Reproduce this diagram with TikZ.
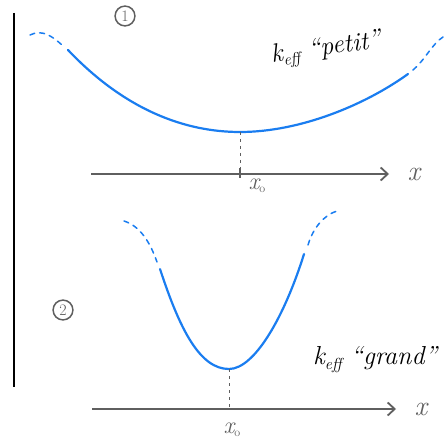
\documentclass[tikz,border=0pt]{standalone}
\usetikzlibrary{arrows.meta}
\definecolor{curveblue}{RGB}{26,125,240}
\definecolor{axgray}{RGB}{95,95,95}
\tikzset{
  curve/.style={curveblue, line width=2.2pt, line cap=round},
  curvedash/.style={curveblue, line width=1.5pt, dash pattern=on 5pt off 5pt, line cap=round},
  axis/.style={axgray, line width=2pt, -{Straight Barb[length=7pt,width=13pt,line width=1.8pt]}},
  guide/.style={axgray, line width=1pt, dash pattern=on 3pt off 4pt},
  lbl/.style={axgray, inner sep=0pt},
  hand/.style={black, inner sep=0pt, font=\fontsize{26}{30}\selectfont\itshape},
  circnum/.style={axgray, draw, circle, line width=1.5pt, inner sep=2.5pt, font=\fontsize{16}{17}\selectfont}
}
\begin{document}
\begin{tikzpicture}[x=1pt,y=-1pt]
\useasboundingbox (0,0) rectangle (446,443);
% vertical bar
\coordinate (vt) at (14,13);
\coordinate (vb) at (14,387);
\draw[black, line width=2.2pt] (vt) -- (vb);

% ---- panel 1 ----
\node[circnum] (c1) at (125,16) {1};
\coordinate (p1a) at (30,35);
\coordinate (p1b) at (62,45);
\coordinate (p1c) at (68,50);
\coordinate (m1) at (240,132);
\coordinate (p1d) at (408,74);
\coordinate (p1e) at (413,70);
\coordinate (p1f) at (443,37);
\draw[curvedash] (p1a) .. controls (42,29) and (52,36) .. (p1b);
\draw[curve] (p1c) .. controls (125,110) and (185,132) .. (m1)
             .. controls (300,132) and (365,105) .. (p1d);
\draw[curvedash] (p1e) .. controls (425,60) and (432,44) .. (p1f);
\coordinate (a1s) at (91,174);
\coordinate (a1e) at (389,174);
\coordinate (x1) at (240,174);
\draw[axis] (a1s) -- (a1e);
\draw[guide] (m1) -- (x1);
\draw[axgray, line width=1.2pt] (240,168) -- (240,178);
\node[lbl, font=\fontsize{28}{30}\selectfont\itshape] (xl1) at (414,174) {x};
\node[lbl, font=\fontsize{24}{26}\selectfont\itshape] (x01) at (257,186) {x\raisebox{-3pt}{\fontsize{12}{12}\selectfont\upshape o}};
\node[hand, rotate=8] (k1) at (326,50) {k\raisebox{-5pt}{\fontsize{16}{16}\selectfont eff} ``petit''};

% ---- panel 2 ----
\node[circnum] (c2) at (63,310) {2};
\coordinate (p2a) at (124,221);
\coordinate (p2b) at (157,262);
\coordinate (p2c) at (160,269);
\coordinate (m2) at (229,369);
\coordinate (p2d) at (304,254);
\coordinate (p2e) at (308,245);
\coordinate (p2f) at (337,211);
\draw[curvedash] (p2a) .. controls (140,226) and (150,242) .. (p2b);
\draw[curve] (p2c) .. controls (180,330) and (200,369) .. (m2)
             .. controls (255,369) and (285,315) .. (p2d);
\draw[curvedash] (p2e) .. controls (313,228) and (324,215) .. (p2f);
\coordinate (a2s) at (92,409);
\coordinate (a2e) at (396,409);
\coordinate (x2) at (229,409);
\draw[axis] (a2s) -- (a2e);
\draw[guide] (m2) -- (x2);
\node[lbl, font=\fontsize{28}{30}\selectfont\itshape] (xl2) at (421,409) {x};
\node[lbl, font=\fontsize{24}{26}\selectfont\itshape] (x02) at (232,430) {x\raisebox{-3pt}{\fontsize{12}{12}\selectfont\upshape o}};
\node[hand] (k2) at (375,360) {k\raisebox{-5pt}{\fontsize{16}{16}\selectfont eff} ``grand''};
\end{tikzpicture}
\end{document}
